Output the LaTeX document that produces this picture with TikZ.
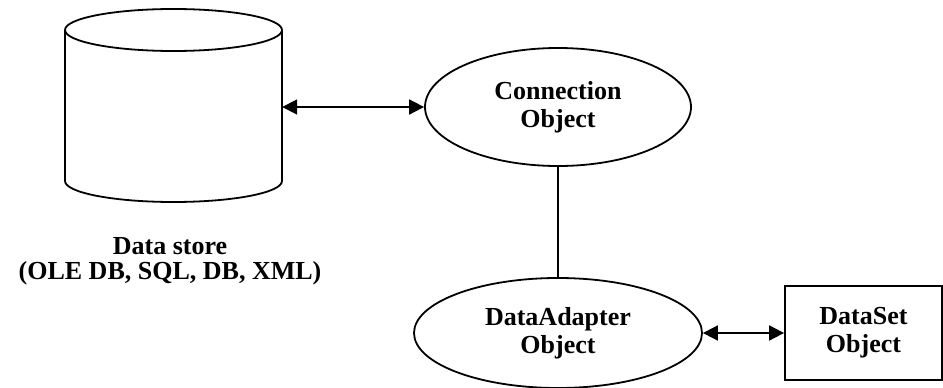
\documentclass[tikz,border=0pt]{standalone}
\usepackage{fontspec}
\setmainfont{Liberation Serif}
\usetikzlibrary{shapes.geometric,arrows.meta}
\begin{document}
\begin{tikzpicture}[x=1pt,y=-1pt,
  lw/.style={line width=1.8pt},
  txt/.style={inner sep=0pt,align=center,font=\fontsize{26}{28}\selectfont\bfseries},
  obj/.style={ellipse,draw,lw,txt},
  boxobj/.style={rectangle,draw,lw,txt},
  biarrow/.style={lw,{Triangle[length=15pt,width=15pt]}-{Triangle[length=15pt,width=15pt]}}
]
\useasboundingbox (0,0) rectangle (943,388);
% data store cylinder
\node[inner sep=0pt,minimum width=217pt,minimum height=193pt] (store) at (173.5,105.5) {};
\draw[lw] (65,30) -- (65,181) arc[start angle=180,end angle=0,x radius=108.5,y radius=21] -- (282,30);
\draw[lw] (173.5,30) ellipse[x radius=108.5,y radius=21];
\node[txt,font=\fontsize{26}{25}\selectfont\bfseries] (storelabel) at (170,261) {Data store\\(OLE DB, SQL, DB, XML)};
% objects
\node[obj,minimum width=266pt,minimum height=118pt] (connection) at (558,107) {Connection\\Object};
\node[obj,minimum width=288pt,minimum height=110pt] (adapter) at (558,333) {DataAdapter\\Object};
\node[boxobj,minimum width=157pt,minimum height=94pt] (dataset) at (863.5,333) {DataSet\\Object};
% connectors
\draw[biarrow] (store.east |- connection.west) -- (connection.west);
\draw[lw] (connection.south) -- (adapter.north);
\draw[biarrow] (adapter.east) -- (dataset.west);
\end{tikzpicture}
\end{document}
